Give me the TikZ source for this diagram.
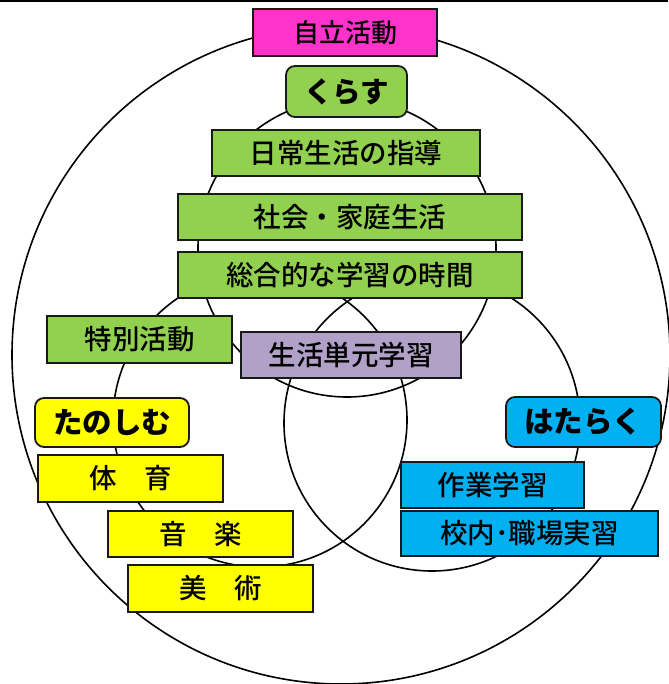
\documentclass[tikz,border=0pt]{standalone}
\usepackage{fontspec}
\newfontfamily\jp{Noto Sans CJK JP Medium}
\newfontfamily\jpblack{Noto Sans CJK JP Black}
\definecolor{kgreen}{HTML}{92D050}
\definecolor{kyellow}{HTML}{FFFF00}
\definecolor{kcyan}{HTML}{00B0F0}
\definecolor{kmagenta}{HTML}{FF33CC}
\definecolor{kpurple}{HTML}{B1A0C7}
\tikzset{
  ring/.style={draw=black, line width=1.6pt},
  box/.style={draw=black!90, line width=1.8pt, inner sep=0pt, rectangle,
    font=\jp\fontsize{27.5pt}{30pt}\selectfont},
  rbox/.style={box, rounded corners=9pt, font=\jpblack\fontsize{29.5pt}{31pt}\selectfont},
}
\begin{document}
\begin{tikzpicture}[x=1pt,y=-1pt]
\useasboundingbox (0,0) rectangle (668,684);
\fill[white] (0,0) rectangle (668,684);
\draw[line width=1.8pt] (0,0.9) -- (668,0.9);
% circles
\draw[ring] (341,355) circle[radius=329pt];
\draw[ring] (347,248) circle[radius=149pt];
\draw[ring] (260,420) circle[radius=147pt];
\draw[ring] (432,423) circle[radius=148pt];
% boxes
\node[box, fill=kmagenta, minimum width=184pt, minimum height=47pt, font=\jp\fontsize{26pt}{28pt}\selectfont] (jiritsu) at (345,32.5) {自立活動};
\node[rbox, fill=kgreen, minimum width=121pt, minimum height=51pt, font=\jpblack\fontsize{28.5pt}{31pt}\selectfont] (kurasu) at (346.5,91.5) {くらす};
\node[box, fill=kgreen, minimum width=268pt, minimum height=46pt] (nichijo) at (346,153) {日常生活の指導};
\node[box, fill=kgreen, minimum width=344pt, minimum height=46pt] (shakai) at (350,217) {社会・家庭生活};
\node[box, fill=kgreen, minimum width=344pt, minimum height=46pt] (sogo) at (350,275) {総合的な学習の時間};
\node[box, fill=kgreen, minimum width=185pt, minimum height=47pt] (tokubetsu) at (139.5,339.5) {特別活動};
\node[box, fill=kpurple, minimum width=220pt, minimum height=46pt] (seikatsu) at (351,355) {生活単元学習};
\node[rbox, fill=kyellow, minimum width=154pt, minimum height=49pt] (tanoshimu) at (112,422.5) {たのしむ};
\node[box, fill=kyellow, minimum width=185pt, minimum height=47pt] (taiiku) at (130.5,478.5) {体　育};
\node[box, fill=kyellow, minimum width=185pt, minimum height=46pt] (ongaku) at (200.5,534) {音　楽};
\node[box, fill=kyellow, minimum width=185pt, minimum height=47pt] (bijutsu) at (220.5,588.5) {美　術};
\node[rbox, fill=kcyan, minimum width=155pt, minimum height=50pt] (hataraku) at (583.5,422) {はたらく};
\node[box, fill=kcyan, minimum width=183pt, minimum height=46pt] (sagyo) at (492.5,485) {作業学習};
\node[box, fill=kcyan, minimum width=257pt, minimum height=45pt] (kounai) at (529.5,533.5) {校内･職場実習};
\end{tikzpicture}
\end{document}
